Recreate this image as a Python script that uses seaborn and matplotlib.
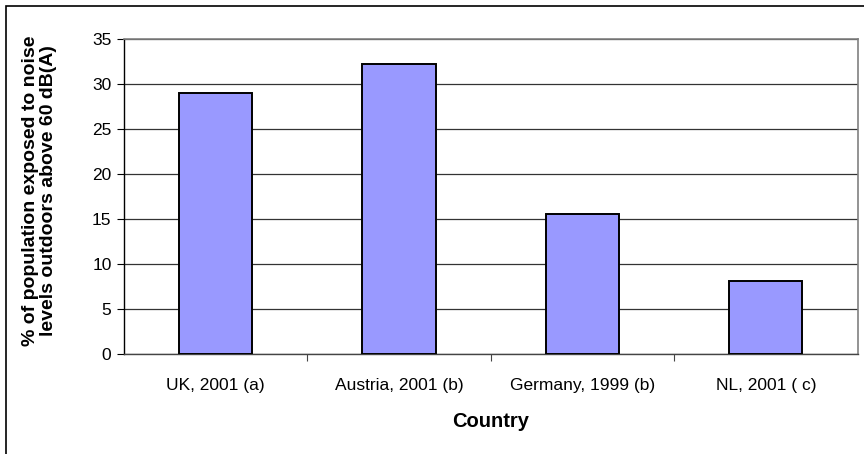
import matplotlib
matplotlib.use("Agg")
import matplotlib.pyplot as plt
import seaborn as sns
import pandas as pd
from matplotlib.patches import Rectangle

countries = ["UK, 2001 (a)", "Austria, 2001 (b)", "Germany, 1999 (b)", "NL, 2001 ( c)"]
exposed_pct = [29.0, 32.2, 15.6, 8.1]
y_ticks = [0, 5, 10, 15, 20, 25, 30, 35]

df = pd.DataFrame({"Country": countries, "Exposed": exposed_pct})

sns.set_theme(style="white")
plt.rcParams["font.family"] = ["Liberation Sans", "DejaVu Sans"]

W, H = 864, 454
fig = plt.figure(figsize=(W / 100, H / 100), dpi=100)
ax = fig.add_axes([124 / W, 1 - 354.3 / H, (857.5 - 124) / W, (354.3 - 39.3) / H])

sns.barplot(data=df, x="Country", y="Exposed", color="#9999FF", saturation=1,
            width=0.4, edgecolor="black", linewidth=1.4, ax=ax, zorder=3)

ax.set_ylim(0, 35)
ax.set_xlim(-0.5, len(countries) - 0.5)
ax.set_yticks(y_ticks)
ax.set_yticklabels([str(t) for t in y_ticks], fontsize=12.5, color="black")
ax.yaxis.grid(True, color="#333333", linewidth=0.9, zorder=0)
ax.set_axisbelow(True)

# category separators on the x axis
ax.set_xticks([i + 0.5 for i in range(len(countries) - 1)], minor=False)
ax.set_xticklabels([])
ax.set_xticks(range(len(countries)), minor=True)
ax.set_xticklabels(countries, minor=True, fontsize=12.5, color="black")
ax.tick_params(axis="x", which="major", length=5, width=0.8, color="#444444", direction="out", bottom=True)
ax.tick_params(axis="x", which="minor", length=0, pad=17)
ax.tick_params(axis="y", length=5, width=0.8, color="black", direction="out", left=True, pad=4)

for side in ["top", "right"]:
    ax.spines[side].set_visible(True)
    ax.spines[side].set_color("#808080")
    ax.spines[side].set_linewidth(1.2)
ax.spines["left"].set_color("black")
ax.spines["left"].set_linewidth(1.0)
ax.spines["bottom"].set_color("#444444")
ax.spines["bottom"].set_linewidth(1.0)

ax.set_xlabel("Country", fontsize=14.5, fontweight="bold", labelpad=14, color="black")
ax.set_ylabel("% of population exposed to noise\nlevels outdoors above 60 dB(A)",
              fontsize=14, fontweight="bold", color="black", linespacing=1.1)
ax.yaxis.set_label_coords(-0.091, 0.52)

# outer chart frame
fig.patches.append(Rectangle((6 / W, -0.5), 2.0, 1.5 - 6 / H, transform=fig.transFigure,
                             fill=False, edgecolor="black", linewidth=1.2, clip_on=False))

fig.savefig("out.png", dpi=100)
